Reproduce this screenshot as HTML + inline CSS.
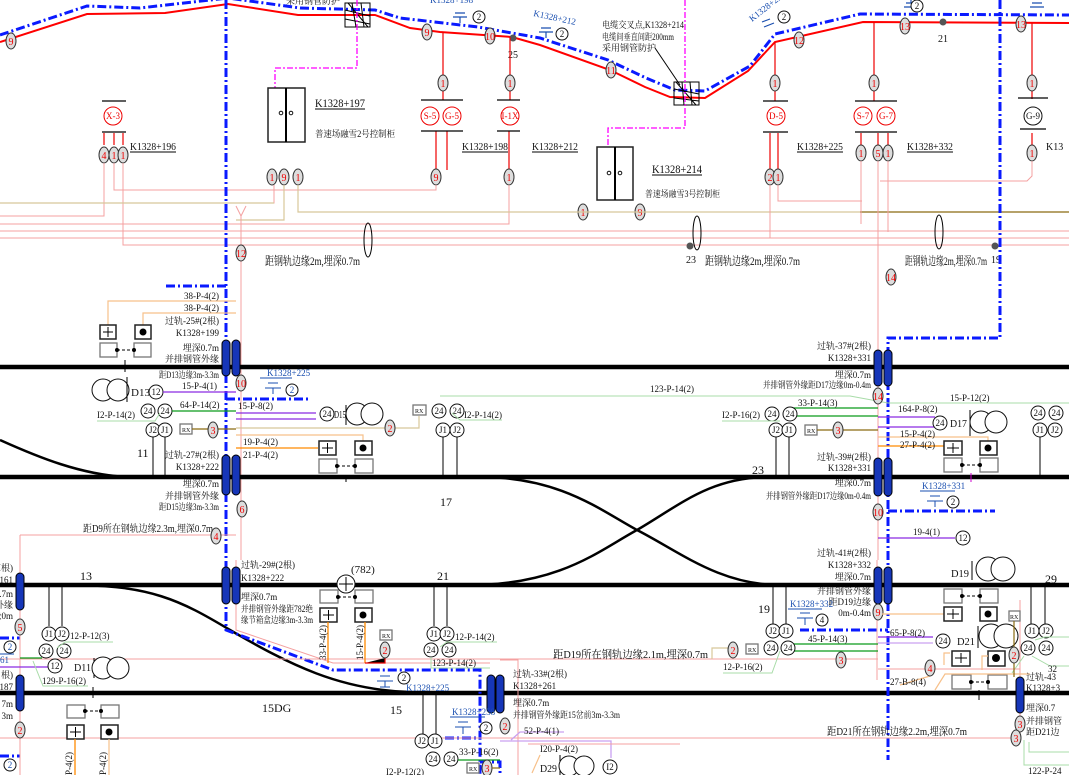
<!DOCTYPE html>
<html><head><meta charset="utf-8">
<style>
html,body{margin:0;padding:0;background:#fff;}
svg{display:block;}
text{font-family:"Liberation Serif","Noto Serif CJK SC",serif;font-size:10px;fill:#111;}
.s{font-size:9px;}
.e{text-anchor:end;}
.b{fill:#1a4fb0;}
.r{fill:#e00;}
.ov{fill:#ddd;stroke:#333;stroke-width:1;}
.ot{fill:#e00;font-size:10px;text-anchor:middle;}
.ci{fill:#fff;stroke:#111;stroke-width:1;}
.ct{font-size:9px;text-anchor:middle;}
.rail{stroke:#000;stroke-width:4.5;fill:none;}
.bd{stroke:#0a1aff;stroke-width:3;fill:none;stroke-dasharray:9,3,2,3;}
.pk{stroke:#f4a0a0;stroke-width:1;fill:none;}
.tn{stroke:#d8c79a;stroke-width:1.2;fill:none;}
.gn{stroke:#0a9a1a;stroke-width:1.3;fill:none;}
.lg{stroke:#a8dca8;stroke-width:1;fill:none;}
.pu{stroke:#8a2be2;stroke-width:1.3;fill:none;}
.lp{stroke:#c9a0f0;stroke-width:1.3;fill:none;}
.or{stroke:#ff8a00;stroke-width:1.3;fill:none;}
.lo{stroke:#f7c08a;stroke-width:1.2;fill:none;}
.br{stroke:#8a6a10;stroke-width:1.2;fill:none;}
.k{stroke:#000;stroke-width:1;fill:none;}
.box{fill:#fff;stroke:#222;stroke-width:1.5;}
.gbox{fill:#fff;stroke:#777;stroke-width:1.3;}
.cap{fill:#1636b8;stroke:#000;stroke-width:1;}
.rc{fill:#fff;stroke:#e00;stroke-width:1;}
.rct{fill:#e00;font-size:9px;text-anchor:middle;}
.dl{font-size:11px;}
</style></head><body>
<svg width="1069" height="775" viewBox="0 0 1069 775" xmlns="http://www.w3.org/2000/svg">
<polyline points="0,42 87,14 165,13 228,4 298,15 375,15 410,28 440,32 512,37 540,45 610,70 645,87 670,97 705,98 748,71 775,42 863,22 1069,23" fill="none" stroke="#f00" stroke-width="2"/>
<polyline points="0,35 87,6 140,8 228,-2 300,8 375,10 400,18 478,27 540,38 608,60 646,78 675,90 705,91 750,66 775,34 860,14 1069,15" class="bd"/>
<g class="k" stroke-width="1.3">
<rect x="345" y="3" width="25" height="24"/><path d="M345,10 L370,16 M345,19 L370,24 M352,3 L356,27 M361,3 L364,27 M348,3 L368,27"/>
<rect x="674" y="82" width="25" height="23"/><path d="M674,89 L699,94 M674,98 L699,101 M682,82 L684,105 M690,82 L692,105 M676,82 L696,105"/>
</g>
<path d="M680,85 L655,48" class="k"/>
<path d="M357,0 V68 H275 V88" stroke="#f0f" stroke-width="1.3" fill="none" stroke-dasharray="6,2,2,2"/>
<path d="M685,0 V128 H608 V147" stroke="#f0f" stroke-width="1.3" fill="none" stroke-dasharray="6,2,2,2"/>
<rect x="268" y="88" width="37" height="54" class="box"/><line x1="286" y1="88" x2="286" y2="142" stroke="#000" stroke-width="2"/>
<circle cx="281" cy="113" r="1.8" class="ci"/><circle cx="291" cy="113" r="1.8" class="ci"/>
<text x="315" y="107" style="font-size:12px" textLength="50" lengthAdjust="spacingAndGlyphs">K1328+197</text><line x1="315" y1="109" x2="365" y2="109" class="k"/>
<text x="315" y="137" class="s" textLength="80" lengthAdjust="spacingAndGlyphs">普速场融雪2号控制柜</text>
<rect x="597" y="147" width="36" height="53" class="box"/><line x1="615" y1="147" x2="615" y2="200" stroke="#000" stroke-width="2"/>
<circle cx="609" cy="173" r="1.8" class="ci"/><circle cx="620" cy="173" r="1.8" class="ci"/>
<text x="652" y="173" style="font-size:12px" textLength="50" lengthAdjust="spacingAndGlyphs">K1328+214</text><line x1="652" y1="175" x2="702" y2="175" class="k"/>
<text x="645" y="197" class="s" textLength="75" lengthAdjust="spacingAndGlyphs">普速场融雪3号控制柜</text>
<text x="602" y="28" class="s" textLength="82" lengthAdjust="spacingAndGlyphs">电缆交叉点,K1328+214</text>
<text x="602" y="40" class="s" textLength="72" lengthAdjust="spacingAndGlyphs">电缆间垂直间距200mm</text>
<text x="602" y="51" class="s">采用钢管防护</text>
<text x="286" y="4" class="s">采用钢管防护</text>
<text x="533" y="16" class="b s" transform="rotate(12 533 16)">K1328+212</text>
<text x="752" y="22" class="b s" transform="rotate(-38 752 22)">K1328+225</text>
<text x="430" y="3" class="b s">K1328+198</text>
<g stroke="#1a4fb0" fill="none" stroke-width="1.2">
<path d="M541,28 h10 M539,32 h14 M546,32 v6"/>
<path d="M455,13 h10 M453,17 h14 M460,17 v6"/>
<path d="M762,22 l8,-3 M764,27 l10,-4"/>
<path d="M906,3 h10 M904,7 h14 M911,0 v3"/>
<path d="M1032,3 h10 M1030,7 h14"/>
</g>
<circle cx="562" cy="34" r="6" class="ci"/><text x="562" y="37" class="ct">2</text>
<circle cx="479" cy="17" r="6" class="ci"/><text x="479" y="20" class="ct">2</text>
<circle cx="784" cy="17" r="6" class="ci"/><text x="784" y="20" class="ct">2</text>
<circle cx="917" cy="6" r="6" class="ci"/><text x="917" y="9" class="ct">2</text>
<ellipse cx="11" cy="41" rx="5" ry="8" class="ov"/><text x="11" y="45" class="ot">9</text>
<ellipse cx="427" cy="32" rx="5" ry="8" class="ov"/><text x="427" y="36" class="ot">9</text>
<ellipse cx="490" cy="36" rx="5" ry="8" class="ov"/><text x="490" y="40" class="ot">10</text>
<ellipse cx="611" cy="70" rx="5" ry="8" class="ov"/><text x="611" y="74" class="ot">11</text>
<ellipse cx="799" cy="40" rx="5" ry="8" class="ov"/><text x="799" y="44" class="ot">12</text>
<ellipse cx="905" cy="26" rx="5" ry="8" class="ov"/><text x="905" y="30" class="ot">13</text>
<ellipse cx="1021" cy="24" rx="5" ry="8" class="ov"/><text x="1021" y="28" class="ot">13</text>
<circle cx="513" cy="38" r="3.5" fill="#555"/><text x="508" y="58">25</text>
<circle cx="943" cy="22" r="3.5" fill="#555"/><text x="938" y="42">21</text>
<g stroke="#e00" stroke-width="1.2" fill="none">
<path d="M443,32 V100 M510,37 V100 M775,42 V101 M874,22 V101 M1032,23 V99"/>
<path d="M104,133 V145 M114,133 V145 M123,133 V145 M436,131 V170 M447,131 V170 M509,131 V170 M770,133 V170 M778,133 V170 M861,133 V145 M878,133 V145 M888,133 V145 M1032,133 V145"/>
</g>
<g stroke="#000" stroke-width="1.3">
<line x1="102" y1="101" x2="126" y2="101"/><line x1="102" y1="132" x2="126" y2="132"/>
<line x1="421" y1="100" x2="463" y2="100"/><line x1="421" y1="131" x2="463" y2="131"/>
<line x1="497" y1="100" x2="520" y2="100"/><line x1="497" y1="131" x2="520" y2="131"/>
<line x1="763" y1="101" x2="788" y2="101"/><line x1="763" y1="132" x2="788" y2="132"/>
<line x1="855" y1="101" x2="897" y2="101"/><line x1="855" y1="132" x2="897" y2="132"/>
<line x1="1018" y1="98" x2="1048" y2="98"/><line x1="1020" y1="129" x2="1046" y2="129"/>
</g>
<circle cx="113" cy="116" r="9" class="rc"/><text x="113" y="119" class="rct">X-3</text>
<circle cx="430" cy="116" r="9" class="rc"/><text x="430" y="119" class="rct">S-5</text>
<circle cx="452" cy="116" r="9" class="rc"/><text x="452" y="119" class="rct">G-5</text>
<circle cx="510" cy="116" r="9" class="rc"/><text x="510" y="119" class="rct">I-1X</text>
<circle cx="776" cy="116" r="9" class="rc"/><text x="776" y="119" class="rct">D-5</text>
<circle cx="863" cy="116" r="9" class="rc"/><text x="863" y="119" class="rct">S-7</text>
<circle cx="886" cy="116" r="9" class="rc"/><text x="886" y="119" class="rct">G-7</text>
<circle cx="1033" cy="116" r="9" class="ci"/><text x="1033" y="119" class="ct">G-9</text>
<g style="font-size:12px">
<text x="130" y="150" textLength="46" lengthAdjust="spacingAndGlyphs">K1328+196</text><text x="462" y="150" textLength="46" lengthAdjust="spacingAndGlyphs">K1328+198</text><text x="532" y="150" textLength="46" lengthAdjust="spacingAndGlyphs">K1328+212</text>
<text x="797" y="150" textLength="46" lengthAdjust="spacingAndGlyphs">K1328+225</text><text x="907" y="150" textLength="46" lengthAdjust="spacingAndGlyphs">K1328+332</text><text x="1046" y="150">K13</text>
</g>
<g class="k"><path d="M130,152 h46 M462,152 h46 M532,152 h46 M797,152 h46 M907,152 h46"/></g>
<g>
<ellipse cx="104" cy="155" rx="5" ry="8" class="ov"/><text x="104" y="159" class="ot">4</text>
<ellipse cx="114" cy="155" rx="5" ry="8" class="ov"/><text x="114" y="159" class="ot">1</text>
<ellipse cx="123" cy="155" rx="5" ry="8" class="ov"/><text x="123" y="159" class="ot">1</text>
<ellipse cx="443" cy="83" rx="5" ry="8" class="ov"/><text x="443" y="87" class="ot">1</text>
<ellipse cx="510" cy="83" rx="5" ry="8" class="ov"/><text x="510" y="87" class="ot">1</text>
<ellipse cx="775" cy="83" rx="5" ry="8" class="ov"/><text x="775" y="87" class="ot">1</text>
<ellipse cx="874" cy="83" rx="5" ry="8" class="ov"/><text x="874" y="87" class="ot">1</text>
<ellipse cx="1032" cy="83" rx="5" ry="8" class="ov"/><text x="1032" y="87" class="ot">1</text>
<ellipse cx="272" cy="177" rx="5" ry="8" class="ov"/><text x="272" y="181" class="ot">1</text>
<ellipse cx="284" cy="177" rx="5" ry="8" class="ov"/><text x="284" y="181" class="ot">9</text>
<ellipse cx="298" cy="177" rx="5" ry="8" class="ov"/><text x="298" y="181" class="ot">1</text>
<ellipse cx="436" cy="177" rx="5" ry="8" class="ov"/><text x="436" y="181" class="ot">9</text>
<ellipse cx="509" cy="177" rx="5" ry="8" class="ov"/><text x="509" y="181" class="ot">1</text>
<ellipse cx="770" cy="177" rx="5" ry="8" class="ov"/><text x="770" y="181" class="ot">2</text>
<ellipse cx="778" cy="177" rx="5" ry="8" class="ov"/><text x="778" y="181" class="ot">1</text>
<ellipse cx="861" cy="153" rx="5" ry="8" class="ov"/><text x="861" y="157" class="ot">1</text>
<ellipse cx="878" cy="153" rx="5" ry="8" class="ov"/><text x="878" y="157" class="ot">5</text>
<ellipse cx="888" cy="153" rx="5" ry="8" class="ov"/><text x="888" y="157" class="ot">1</text>
<ellipse cx="1032" cy="153" rx="5" ry="8" class="ov"/><text x="1032" y="157" class="ot">1</text>
<ellipse cx="583" cy="212" rx="5" ry="8" class="ov"/><text x="583" y="216" class="ot">1</text>
<ellipse cx="640" cy="212" rx="5" ry="8" class="ov"/><text x="640" y="216" class="ot">9</text>
</g>
<path d="M114,163 V190 H436 V185 M0,203 H274 V185 M0,216 H104 V163 M236,220 H284 V185 M298,185 V212 H1069 M0,224 H509 V185 M0,231 H1069 M123,163 V245 H1069 M0,238 H1069" class="pk"/>
<path d="M0,203 H274 M298,185 V212 H860 M236,220 H284 V185" class="tn"/>
<path d="M860,212 H1069" stroke="#8a6a10" stroke-width="1.2"/>
<path d="M770,185 V238 M778,185 V201 H862 M861,161 V224 M888,161 V232 M1032,161 V176 L1027,181 H880 M878,161 V560" class="pk"/>
<path d="M236,206 L241,216 L246,206 M241,216 V560" class="pk"/>
<ellipse cx="368" cy="240" rx="4" ry="17" fill="none" stroke="#000"/>
<ellipse cx="697" cy="233" rx="4" ry="17" fill="none" stroke="#000"/>
<ellipse cx="939" cy="232" rx="4" ry="17" fill="none" stroke="#000"/>
<circle cx="690" cy="246" r="3.5" fill="#555"/><text x="686" y="263">23</text>
<circle cx="995" cy="246" r="3.5" fill="#555"/><text x="991" y="263">19</text>
<text x="265" y="265" style="font-size:12px" textLength="95" lengthAdjust="spacingAndGlyphs">距钢轨边缘2m,埋深0.7m</text>
<text x="705" y="265" style="font-size:12px" textLength="95" lengthAdjust="spacingAndGlyphs">距钢轨边缘2m,埋深0.7m</text>
<text x="905" y="265" style="font-size:12px" textLength="82" lengthAdjust="spacingAndGlyphs">距钢轨边缘2m,埋深0.7m</text>
<ellipse cx="241" cy="253" rx="5" ry="8" class="ov"/><text x="241" y="257" class="ot">12</text>
<ellipse cx="891" cy="277" rx="5" ry="8" class="ov"/><text x="891" y="281" class="ot">14</text>

<line x1="0" y1="367" x2="1069" y2="367" class="rail"/>
<line x1="0" y1="477" x2="1069" y2="477" class="rail"/>
<line x1="0" y1="585" x2="1069" y2="585" class="rail"/>
<line x1="0" y1="693" x2="1069" y2="693" class="rail"/>
<path d="M0,440 C40,458 80,474 125,477" stroke="#000" stroke-width="2.5" fill="none"/>
<path d="M480,477 C560,477 600,510 637,530 C680,552 720,585 780,585" stroke="#000" stroke-width="2.5" fill="none"/>
<path d="M470,585 C560,585 600,550 637,530 C680,505 710,477 770,477" stroke="#000" stroke-width="2.5" fill="none"/>
<path d="M70,585 C150,585 180,600 230,630 C290,665 340,690 410,692" stroke="#000" stroke-width="2.5" fill="none"/>

<path d="M226,0 V630 L333,670 H480 V775" class="bd"/>
<path d="M166,286 H226 M226,399 H308" class="bd"/>
<path d="M1000,0 V338 H888 V760" class="bd"/>
<path d="M888,511 H995 M800,630 H888 M445,738 H480 M0,638 H20 M0,756 H20 M480,762 H500 V775" class="bd"/>
<path d="M236,560 V630 L333,663 H490" class="pk"/>
<path d="M20,535 H236 M20,535 V775 M877,560 V680 M1020,600 V740 M0,659 H878 M0,738 H1020 M500,660 H518 V775" class="pk"/>

<g>
<rect x="222" y="340" width="8" height="36" rx="4" class="cap"/><rect x="232" y="340" width="8" height="36" rx="4" class="cap"/>
<rect x="222" y="455" width="8" height="40" rx="4" class="cap"/><rect x="232" y="455" width="8" height="40" rx="4" class="cap"/>
<rect x="222" y="567" width="8" height="37" rx="4" class="cap"/><rect x="232" y="567" width="8" height="37" rx="4" class="cap"/>
<rect x="874" y="350" width="8" height="36" rx="4" class="cap"/><rect x="884" y="350" width="8" height="36" rx="4" class="cap"/>
<rect x="874" y="458" width="8" height="38" rx="4" class="cap"/><rect x="884" y="458" width="8" height="38" rx="4" class="cap"/>
<rect x="874" y="567" width="8" height="37" rx="4" class="cap"/><rect x="884" y="567" width="8" height="37" rx="4" class="cap"/>
<rect x="16" y="573" width="8" height="37" rx="4" class="cap"/><rect x="16" y="675" width="8" height="36" rx="4" class="cap"/>
<rect x="487" y="675" width="8" height="38" rx="4" class="cap"/><rect x="496" y="675" width="8" height="38" rx="4" class="cap"/>
<rect x="1016" y="677" width="8" height="36" rx="4" class="cap"/>
</g>

<!-- left middle -->
<path d="M108,328 V301 H236 M143,325 V313 H236" class="lo"/>
<text x="219" y="299" class="s e">38-P-4(2)</text><text x="219" y="311" class="s e">38-P-4(2)</text>
<text x="219" y="324" class="s e">过轨-25#(2根)</text><text x="219" y="336" class="s e">K1328+199</text>
<text x="219" y="351" class="s e">埋深0.7m</text><text x="219" y="362" class="s e">并排钢管外缘</text><text x="219" y="378" class="s e" textLength="60" lengthAdjust="spacingAndGlyphs">距D13边缘3m-3.3m</text>
<rect x="100" y="325" width="16" height="14" class="box"/><path d="M103,332 h10 M108,327 v10" stroke="#000"/>
<rect x="135" y="325" width="16" height="14" class="box"/><circle cx="143" cy="332" r="3.5"/>
<rect x="100" y="343" width="17" height="14" class="gbox"/><rect x="134" y="343" width="17" height="14" class="gbox"/>
<path d="M117,350 H134" stroke="#000" stroke-dasharray="3,2"/><circle cx="117" cy="350" r="2"/><circle cx="134" cy="350" r="2"/>
<line x1="125" y1="360" x2="125" y2="372" stroke="#000"/>
<circle cx="103" cy="390" r="11" class="ci"/><circle cx="118" cy="390" r="11" class="ci"/><line x1="127" y1="377" x2="127" y2="402" stroke="#000"/>
<text x="131" y="396" class="dl">D13</text>
<circle cx="156" cy="392" r="7" class="ci"/><text x="156" y="395" class="ct">12</text>
<path d="M163,392 H236" class="pu"/><text x="182" y="389" class="s">15-P-4(1)</text>
<ellipse cx="241" cy="383" rx="5" ry="8" class="ov"/><text x="241" y="387" class="ot">10</text>
<text x="267" y="376" class="b s">K1328+225</text><line x1="260" y1="378" x2="292" y2="378" stroke="#1a4fb0"/>
<path d="M268,383 h10 M265,388 h16 M273,388 v6" stroke="#1a4fb0" fill="none"/>
<circle cx="292" cy="390" r="6" class="ci"/><text x="292" y="393" class="ct b">2</text>
<circle cx="148" cy="411" r="7" class="ci"/><text x="148" y="414" class="ct">24</text>
<circle cx="165" cy="411" r="7" class="ci"/><text x="165" y="414" class="ct">24</text>
<circle cx="153" cy="430" r="7" class="ci"/><text x="153" y="433" class="ct">J2</text>
<circle cx="165" cy="430" r="7" class="ci"/><text x="165" y="433" class="ct">J1</text>
<path d="M153,437 V477 M165,437 V477" class="k"/>
<path d="M172,411 H236" class="gn"/><text x="180" y="408" class="s">64-P-14(2)</text>
<path d="M97,421 H155 L160,413" class="lg"/><text x="97" y="418" class="s">I2-P-14(2)</text>
<rect x="180" y="424" width="12" height="10" class="gbox"/><text x="182" y="432" style="font-size:6px">RX</text>
<path d="M192,429 H236" class="br"/>
<ellipse cx="213" cy="430" rx="5" ry="8" class="ov"/><text x="213" y="434" class="ot">3</text>
<text x="137" y="457" style="font-size:12px">11</text>
<path d="M236,413 H316 M236,419 H316" class="pu"/><text x="238" y="409" class="s">15-P-8(2)</text>
<circle cx="327" cy="414" r="7" class="ci"/><text x="327" y="417" class="ct">24</text>
<text x="334" y="418" class="dl" textLength="12" lengthAdjust="spacingAndGlyphs">D15</text>
<line x1="346" y1="405" x2="346" y2="425" stroke="#000"/>
<circle cx="357" cy="414" r="11" class="ci"/><circle cx="372" cy="414" r="11" class="ci"/>
<path d="M236,428 H419 V416" class="tn"/>
<ellipse cx="390" cy="428" rx="5" ry="8" class="ov"/><text x="390" y="432" class="ot">2</text>
<rect x="413" y="405" width="13" height="10" class="gbox"/><text x="415" y="413" style="font-size:6px">RX</text>
<path d="M236,435 H363 V441" class="lo"/>
<path d="M236,448 H318" class="or"/><text x="243" y="445" class="s">19-P-4(2)</text><text x="243" y="458" class="s">21-P-4(2)</text>
<rect x="319" y="441" width="17" height="14" class="box"/><path d="M322,448 h11 M327.5,443 v10" stroke="#000"/>
<rect x="355" y="441" width="17" height="14" class="box"/><circle cx="363" cy="448" r="3.5"/>
<rect x="319" y="459" width="18" height="14" class="gbox"/><rect x="355" y="459" width="18" height="14" class="gbox"/>
<path d="M337,466 H355" stroke="#000" stroke-dasharray="3,2"/><circle cx="337" cy="466" r="2"/><circle cx="355" cy="466" r="2"/>
<line x1="346" y1="475" x2="346" y2="482" stroke="#000"/>
<text x="219" y="458" class="s e">过轨-27#(2根)</text><text x="219" y="470" class="s e">K1328+222</text>
<text x="219" y="487" class="s e">埋深0.7m</text><text x="219" y="499" class="s e">并排钢管外缘</text><text x="219" y="510" class="s e" textLength="60" lengthAdjust="spacingAndGlyphs">距D15边缘3m-3.3m</text>
<ellipse cx="242" cy="509" rx="5" ry="8" class="ov"/><text x="242" y="513" class="ot">6</text>
<text x="440" y="506" style="font-size:12px">17</text>
<text x="83" y="532" textLength="130" lengthAdjust="spacingAndGlyphs">距D9所在钢轨边缘2.3m,埋深0.7m</text>
<path d="M440,396 H850 L888,403 H1069" class="lg"/>
<circle cx="439" cy="411" r="7" class="ci"/><text x="439" y="414" class="ct">24</text>
<circle cx="457" cy="411" r="7" class="ci"/><text x="457" y="414" class="ct">24</text>
<circle cx="443" cy="430" r="7" class="ci"/><text x="443" y="433" class="ct">J1</text>
<circle cx="457" cy="430" r="7" class="ci"/><text x="457" y="433" class="ct">J2</text>
<path d="M443,437 V477 M457,437 V477" class="k"/>
<path d="M452,413 L460,420 H502" class="lg"/><text x="464" y="418" class="s">I2-P-14(2)</text>
<text x="650" y="392" class="s">123-P-14(2)</text>
<!-- right middle -->
<text x="871" y="349" class="s e">过轨-37#(2根)</text><text x="871" y="361" class="s e">K1328+331</text>
<text x="871" y="378" class="s e">埋深0.7m</text><text x="871" y="388" class="s e" textLength="108" lengthAdjust="spacingAndGlyphs">并排钢管外缘距D17边缘0m-0.4m</text>
<ellipse cx="878" cy="396" rx="5" ry="8" class="ov"/><text x="878" y="400" class="ot">14</text>
<path d="M793,408 H878 M793,416 H878" class="gn"/><text x="798" y="406" class="s">33-P-14(3)</text>
<circle cx="772" cy="414" r="7" class="ci"/><text x="772" y="417" class="ct">24</text>
<circle cx="790" cy="414" r="7" class="ci"/><text x="790" y="417" class="ct">24</text>
<circle cx="776" cy="430" r="7" class="ci"/><text x="776" y="433" class="ct">J2</text>
<circle cx="789" cy="430" r="7" class="ci"/><text x="789" y="433" class="ct">J1</text>
<path d="M776,437 V477 M789,437 V477" class="k"/>
<path d="M722,421 H780" class="lg"/><text x="722" y="418" class="s">I2-P-16(2)</text>
<rect x="805" y="425" width="12" height="10" class="gbox"/><text x="807" y="433" style="font-size:6px">RX</text>
<path d="M817,430 H878" class="br"/>
<ellipse cx="838" cy="430" rx="5" ry="8" class="ov"/><text x="838" y="434" class="ot">3</text>
<path d="M878,417 H935 M878,427 H935" class="pu"/><text x="898" y="412" class="s">164-P-8(2)</text>
<circle cx="940" cy="423" r="7" class="ci"/><text x="940" y="426" class="ct">24</text>
<text x="950" y="427" class="dl" textLength="17" lengthAdjust="spacingAndGlyphs">D17</text>
<line x1="970" y1="410" x2="970" y2="436" stroke="#000"/>
<circle cx="981" cy="422" r="11" class="ci"/><circle cx="996" cy="422" r="11" class="ci"/>
<path d="M878,437 H988 V441" class="lo"/><text x="900" y="437" class="s">15-P-4(2)</text>
<path d="M878,446 H944" class="or"/><text x="900" y="448" class="s">27-P-4(2)</text>
<rect x="944" y="441" width="18" height="14" class="box"/><path d="M947,448 h12 M953,443 v10" stroke="#000"/>
<rect x="980" y="441" width="17" height="14" class="box"/><circle cx="988" cy="448" r="3.5"/>
<rect x="944" y="458" width="18" height="14" class="gbox"/><rect x="980" y="458" width="18" height="14" class="gbox"/>
<path d="M962,465 H980" stroke="#000" stroke-dasharray="3,2"/><circle cx="962" cy="465" r="2"/><circle cx="980" cy="465" r="2"/>
<line x1="971" y1="473" x2="971" y2="482" stroke="#c0c"/>
<text x="950" y="401" class="s">15-P-12(2)</text>
<circle cx="1038" cy="413" r="7" class="ci"/><text x="1038" y="416" class="ct">24</text>
<circle cx="1056" cy="413" r="7" class="ci"/><text x="1056" y="416" class="ct">24</text>
<circle cx="1040" cy="430" r="7" class="ci"/><text x="1040" y="433" class="ct">J1</text>
<circle cx="1055" cy="430" r="7" class="ci"/><text x="1055" y="433" class="ct">J2</text>
<path d="M1040,437 V477" class="k"/>
<text x="871" y="460" class="s e">过轨-39#(2根)</text><text x="871" y="471" class="s e">K1328+331</text>
<text x="871" y="486" class="s e">埋深0.7m</text><text x="871" y="499" class="s e" textLength="105" lengthAdjust="spacingAndGlyphs">并排钢管外缘距D17边缘0m-0.4m</text>
<ellipse cx="878" cy="512" rx="5" ry="8" class="ov"/><text x="878" y="516" class="ot">10</text>
<text x="922" y="489" class="b s">K1328+331</text><line x1="920" y1="491" x2="955" y2="491" stroke="#1a4fb0"/>
<path d="M930,496 h10 M927,501 h16 M935,501 v6" stroke="#1a4fb0" fill="none"/>
<circle cx="953" cy="502" r="6" class="ci"/><text x="953" y="505" class="ct">2</text>
<text x="752" y="474" style="font-size:12px">23</text>
<path d="M878,538 H955" class="pu"/><text x="913" y="535" class="s">19-4(1)</text>
<circle cx="963" cy="538" r="7" class="ci"/><text x="963" y="541" class="ct">12</text>

<!-- lower left -->
<ellipse cx="216" cy="536" rx="5" ry="8" class="ov"/><text x="216" y="540" class="ot">4</text>
<text x="241" y="568" class="s">过轨-29#(2根)</text><text x="241" y="581" class="s">K1328+222</text>
<text x="241" y="600" class="s">埋深0.7m</text><text x="241" y="612" class="s" textLength="72" lengthAdjust="spacingAndGlyphs">并排钢管外缘距782绝</text><text x="241" y="623" class="s" textLength="72" lengthAdjust="spacingAndGlyphs">缘节箱盒边缘3m-3.3m</text>
<text x="351" y="573" style="font-size:11px">(782)</text>
<circle cx="346" cy="584" r="9" class="ci"/><path d="M339,584 h14 M346,577 v14" stroke="#000"/>
<rect x="320" y="590" width="18" height="13" class="gbox"/><rect x="355" y="590" width="18" height="13" class="gbox"/>
<path d="M338,597 H355" stroke="#000" stroke-dasharray="3,2"/><circle cx="338" cy="597" r="2"/><circle cx="355" cy="597" r="2"/>
<rect x="320" y="608" width="17" height="14" class="box"/><path d="M323,615 h11 M328.5,610 v10" stroke="#000"/>
<rect x="355" y="608" width="17" height="14" class="box"/><circle cx="363" cy="615" r="3.5"/>
<path d="M328,622 V663 M365,622 V663" class="or"/>
<path d="M365,663 H385 V658" stroke="#e00" stroke-width="1.2"/>
<text x="0" y="0" class="s" transform="translate(326,660) rotate(-90)">33-P-4(2)</text>
<text x="0" y="0" class="s" transform="translate(363,660) rotate(-90)">15-P-4(2)</text>
<rect x="380" y="630" width="12" height="10" class="gbox"/><text x="382" y="638" style="font-size:6px">RX</text>
<ellipse cx="385" cy="650" rx="5" ry="8" class="ov"/><text x="385" y="654" class="ot">2</text>
<text x="80" y="580" style="font-size:12px">13</text>
<path d="M49,585 V626 M62,585 V626" class="k"/>
<circle cx="49" cy="634" r="7" class="ci"/><text x="49" y="637" class="ct">J1</text>
<circle cx="62" cy="634" r="7" class="ci"/><text x="62" y="637" class="ct">J2</text>
<circle cx="46" cy="651" r="7" class="ci"/><text x="46" y="654" class="ct">24</text>
<circle cx="64" cy="651" r="7" class="ci"/><text x="64" y="654" class="ct">24</text>
<path d="M57,648 L65,642 H113" class="lg"/><text x="70" y="639" class="s">12-P-12(3)</text>
<path d="M20,658 H42" class="gn"/>
<path d="M0,667 H48" class="pu"/>
<circle cx="55" cy="666" r="7" class="ci"/><text x="55" y="669" class="ct">12</text>
<text x="74" y="671" class="dl" textLength="17" lengthAdjust="spacingAndGlyphs">D11</text>
<line x1="94" y1="658" x2="94" y2="678" stroke="#000"/>
<circle cx="103" cy="668" r="11" class="ci"/><circle cx="118" cy="668" r="11" class="ci"/>
<path d="M33,661 L43,686 H88" class="lg"/><text x="42" y="684" class="s">129-P-16(2)</text>
<text x="13" y="571" class="s e">I根)</text><text x="13" y="583" class="s e">+161</text><text x="13" y="597" class="s e">0.7m</text><text x="13" y="608" class="s e">外缘</text><text x="13" y="619" class="s e">缘0m</text>
<text x="0" y="663" class="s b">61</text><line x1="0" y1="654" x2="14" y2="654" stroke="#1a4fb0"/>
<text x="13" y="678" class="s e">根)</text><text x="13" y="690" class="s e">187</text><text x="13" y="707" class="s e">7m</text><text x="13" y="719" class="s e">3m</text>
<ellipse cx="20" cy="627" rx="5" ry="8" class="ov"/><text x="20" y="631" class="ot">5</text>
<ellipse cx="20" cy="730" rx="5" ry="8" class="ov"/><text x="20" y="734" class="ot">2</text>
<circle cx="10" cy="647" r="6" class="ci"/><text x="10" y="650" class="ct b">2</text>
<circle cx="10" cy="765" r="6" class="ci"/><text x="10" y="768" class="ct b">2</text>
<line x1="93" y1="687" x2="93" y2="698" stroke="#000"/>
<rect x="67" y="705" width="18" height="13" class="gbox"/><rect x="101" y="705" width="18" height="13" class="gbox"/>
<path d="M85,711 H101" stroke="#000" stroke-dasharray="3,2"/><circle cx="85" cy="711" r="2"/><circle cx="101" cy="711" r="2"/>
<rect x="67" y="725" width="17" height="14" class="box"/><path d="M70,732 h11 M75.5,727 v10" stroke="#000"/>
<rect x="101" y="725" width="17" height="14" class="box"/><circle cx="109" cy="732" r="3.5"/>
<path d="M75,739 V775" class="or"/><path d="M109,739 V775" class="lo"/>
<text x="0" y="0" class="s" transform="translate(72,775) rotate(-90)">P-4(2)</text>
<text x="0" y="0" class="s" transform="translate(106,775) rotate(-90)">P-4(2)</text>
<text x="262" y="712" style="font-size:12px">15DG</text>
<text x="390" y="714" style="font-size:12px">15</text>
<text x="437" y="580" style="font-size:12px">21</text>
<path d="M434,585 V626 M447,585 V626" class="k"/>
<circle cx="434" cy="634" r="7" class="ci"/><text x="434" y="637" class="ct">J1</text>
<circle cx="447" cy="634" r="7" class="ci"/><text x="447" y="637" class="ct">J2</text>
<circle cx="431" cy="650" r="7" class="ci"/><text x="431" y="653" class="ct">24</text>
<circle cx="449" cy="650" r="7" class="ci"/><text x="449" y="653" class="ct">24</text>
<path d="M440,647 L447,642 H497" class="lg"/><text x="455" y="640" class="s">12-P-14(2)</text>
<path d="M431,657 V668 H490" class="lg"/><text x="432" y="666" class="s">123-P-14(2)</text>
<path d="M380,676 h10 M377,681 h16 M385,681 v6 M380,687 h10" stroke="#1a4fb0" fill="none"/>
<circle cx="404" cy="678" r="6" class="ci"/><text x="404" y="681" class="ct">2</text>
<text x="406" y="691" class="b s">K1328+225</text>
<path d="M423,693 V734 M436,693 V734" class="k"/>
<circle cx="422" cy="741" r="7" class="ci"/><text x="422" y="744" class="ct">J2</text>
<circle cx="435" cy="741" r="7" class="ci"/><text x="435" y="744" class="ct">J1</text>
<text x="452" y="715" class="b s">K1328+258</text><line x1="450" y1="717" x2="485" y2="717" stroke="#1a4fb0"/>
<path d="M458,722 h10 M455,727 h16 M463,727 v7" stroke="#1a4fb0" fill="none"/>
<circle cx="486" cy="728" r="6" class="ci"/><text x="486" y="731" class="ct">2</text>
<circle cx="433" cy="759" r="7" class="ci"/><text x="433" y="762" class="ct">24</text>
<circle cx="451" cy="759" r="7" class="ci"/><text x="451" y="762" class="ct">24</text>
<path d="M458,760 H500" class="gn"/><text x="459" y="755" class="s">33-P-16(2)</text>
<rect x="467" y="763" width="12" height="10" class="gbox"/><text x="469" y="771" style="font-size:6px">RX</text>
<ellipse cx="487" cy="768" rx="5" ry="8" class="ov"/><text x="487" y="772" class="ot">3</text>
<path d="M492,768 H500" class="br"/>
<text x="386" y="775" class="s">I2-P-12(2)</text>
<text x="513" y="677" class="s">过轨-33#(2根)</text><text x="513" y="689" class="s">K1328+261</text>
<text x="513" y="706" class="s">埋深0.7m</text><text x="513" y="718" class="s" textLength="107" lengthAdjust="spacingAndGlyphs">并排钢管外缘距15岔前3m-3.3m</text>
<ellipse cx="505" cy="726" rx="5" ry="8" class="ov"/><text x="505" y="730" class="ot">2</text>
<path d="M511,740 L520,732 H564" class="lp"/><text x="524" y="734" class="s">52-P-4(1)</text>
<path d="M500,741 H611 V758" class="lp"/>
<path d="M528,744 H680" class="pk"/>
<text x="540" y="752" class="s">I20-P-4(2)</text>
<path d="M540,755 L532,773" class="lo"/>
<text x="540" y="772" class="dl" textLength="17" lengthAdjust="spacingAndGlyphs">D29</text>
<line x1="560" y1="755" x2="560" y2="775" stroke="#000"/>
<circle cx="569" cy="766" r="10" class="ci"/><circle cx="584" cy="766" r="10" class="ci"/>
<circle cx="610" cy="767" r="7" class="ci"/><text x="610" y="770" class="ct">I2</text>

<!-- lower right -->
<text x="871" y="556" class="s e">过轨-41#(2根)</text><text x="871" y="568" class="s e">K1328+332</text>
<text x="871" y="580" class="s e">埋深0.7m</text><text x="871" y="594" class="s e">并排钢管外缘</text><text x="871" y="605" class="s e">距D19边缘</text><text x="871" y="616" class="s e">0m-0.4m</text>
<ellipse cx="878" cy="612" rx="5" ry="8" class="ov"/><text x="878" y="616" class="ot">9</text>
<path d="M882,614 H944" class="lo"/>
<text x="951" y="577" class="dl" textLength="18" lengthAdjust="spacingAndGlyphs">D19</text>
<line x1="972" y1="561" x2="972" y2="580" stroke="#000"/>
<circle cx="988" cy="569" r="12" class="ci"/><circle cx="1003" cy="569" r="12" class="ci"/>
<rect x="944" y="589" width="18" height="14" class="gbox"/><rect x="980" y="589" width="18" height="14" class="gbox"/>
<path d="M962,596 H980" stroke="#000" stroke-dasharray="3,2"/><circle cx="962" cy="596" r="2"/><circle cx="980" cy="596" r="2"/>
<rect x="944" y="607" width="18" height="14" class="box"/><path d="M947,614 h12 M953,609 v10" stroke="#000"/>
<rect x="980" y="607" width="17" height="14" class="box"/><circle cx="988" cy="614" r="3.5"/>
<text x="1045" y="583" style="font-size:12px">29</text>
<path d="M1031,585 V624 M1045,585 V624" class="k"/>
<circle cx="1032" cy="631" r="7" class="ci"/><text x="1032" y="634" class="ct">J1</text>
<circle cx="1046" cy="631" r="7" class="ci"/><text x="1046" y="634" class="ct">J2</text>
<circle cx="1028" cy="648" r="7" class="ci"/><text x="1028" y="651" class="ct">24</text>
<circle cx="1046" cy="648" r="7" class="ci"/><text x="1046" y="651" class="ct">24</text>
<path d="M1035,640 L1045,637 H1069" class="lg"/>
<path d="M1024,656 L1012,673 M1032,656 L1050,666 H1069" class="lg"/>
<text x="1048" y="672" class="s">32</text>
<text x="758" y="613" style="font-size:12px">19</text>
<path d="M773,585 V624 M786,585 V624" class="k"/>
<circle cx="773" cy="631" r="7" class="ci"/><text x="773" y="634" class="ct">J2</text>
<circle cx="786" cy="631" r="7" class="ci"/><text x="786" y="634" class="ct">J1</text>
<text x="790" y="607" class="b s">K1328+332</text><line x1="788" y1="609" x2="822" y2="609" stroke="#1a4fb0"/>
<path d="M800,613 h10 M797,618 h16 M805,618 v7" stroke="#1a4fb0" fill="none"/>
<circle cx="822" cy="620" r="6" class="ci"/><text x="822" y="623" class="ct">4</text>
<path d="M793,644 H878 M793,651 H878" class="gn"/><text x="808" y="642" class="s">45-P-14(3)</text>
<circle cx="771" cy="648" r="7" class="ci"/><text x="771" y="651" class="ct">24</text>
<circle cx="788" cy="648" r="7" class="ci"/><text x="788" y="651" class="ct">24</text>
<path d="M780,651 L772,673 H723" class="lg"/><text x="723" y="670" class="s">12-P-16(2)</text>
<text x="553" y="658" style="font-size:11px" textLength="155" lengthAdjust="spacingAndGlyphs">距D19所在钢轨边缘2.1m,埋深0.7m</text>
<path d="M712,659 V648 H730" class="tn"/>
<ellipse cx="733" cy="650" rx="5" ry="8" class="ov"/><text x="733" y="654" class="ot">2</text>
<rect x="746" y="644" width="12" height="10" class="gbox"/><text x="748" y="652" style="font-size:6px">RX</text>
<ellipse cx="841" cy="660" rx="5" ry="8" class="ov"/><text x="841" y="664" class="ot">3</text>
<path d="M878,637 H933" class="pu"/><path d="M878,643 H933" class="lp"/><text x="890" y="636" class="s">65-P-8(2)</text>
<circle cx="943" cy="641" r="7" class="ci"/><text x="943" y="644" class="ct">24</text>
<text x="957" y="645" class="dl" textLength="18" lengthAdjust="spacingAndGlyphs">D21</text>
<line x1="978" y1="626" x2="978" y2="648" stroke="#000"/>
<circle cx="991" cy="636" r="12" class="ci"/><circle cx="1006" cy="636" r="12" class="ci"/>
<rect x="952" y="651" width="18" height="15" class="box"/><path d="M955,658 h12 M961,653 v10" stroke="#000"/>
<rect x="988" y="651" width="17" height="15" class="box"/><circle cx="996" cy="658" r="4"/>
<rect x="952" y="675" width="19" height="14" class="gbox"/><rect x="988" y="675" width="19" height="14" class="gbox"/>
<path d="M971,682 H988" stroke="#000" stroke-dasharray="3,2"/><circle cx="971" cy="682" r="2"/><circle cx="988" cy="682" r="2"/>
<line x1="979" y1="690" x2="979" y2="700" stroke="#000"/>
<path d="M878,669 H1020" class="pk"/>
<path d="M944,665 V653 H950 M982,670 V656 H988" class="lo"/>
<path d="M930,676 L900,685 M935,690 L945,674 H1030" class="lo"/>
<ellipse cx="930" cy="668" rx="5" ry="8" class="ov"/><text x="930" y="672" class="ot">4</text>
<text x="890" y="685" class="s">27-B-8(4)</text>
<rect x="1009" y="611" width="11" height="10" class="gbox"/><text x="1010" y="619" style="font-size:6px">RX</text>
<path d="M1014,621 V677" class="br"/>
<ellipse cx="1014" cy="655" rx="5" ry="8" class="ov"/><text x="1014" y="659" class="ot">2</text>
<text x="1026" y="680" class="s">过轨-43</text><text x="1026" y="691" class="s">K1328+3</text>
<text x="1026" y="711" class="s">埋深0.7</text><text x="1026" y="724" class="s">并排钢管</text><text x="1026" y="735" class="s">距D21边</text>
<ellipse cx="1020" cy="724" rx="5" ry="8" class="ov"/><text x="1020" y="728" class="ot">3</text>
<ellipse cx="1016" cy="738" rx="5" ry="8" class="ov"/><text x="1016" y="742" class="ot">3</text>
<text x="827" y="735" style="font-size:11px" textLength="140" lengthAdjust="spacingAndGlyphs">距D21所在钢轨边缘2.2m,埋深0.7m</text>
<path d="M1024,740 V765 H1069 M1029,742 V752 H1069" class="lg"/>
<text x="1028" y="774" class="s">122-P-24</text>
</svg>
</body></html>
